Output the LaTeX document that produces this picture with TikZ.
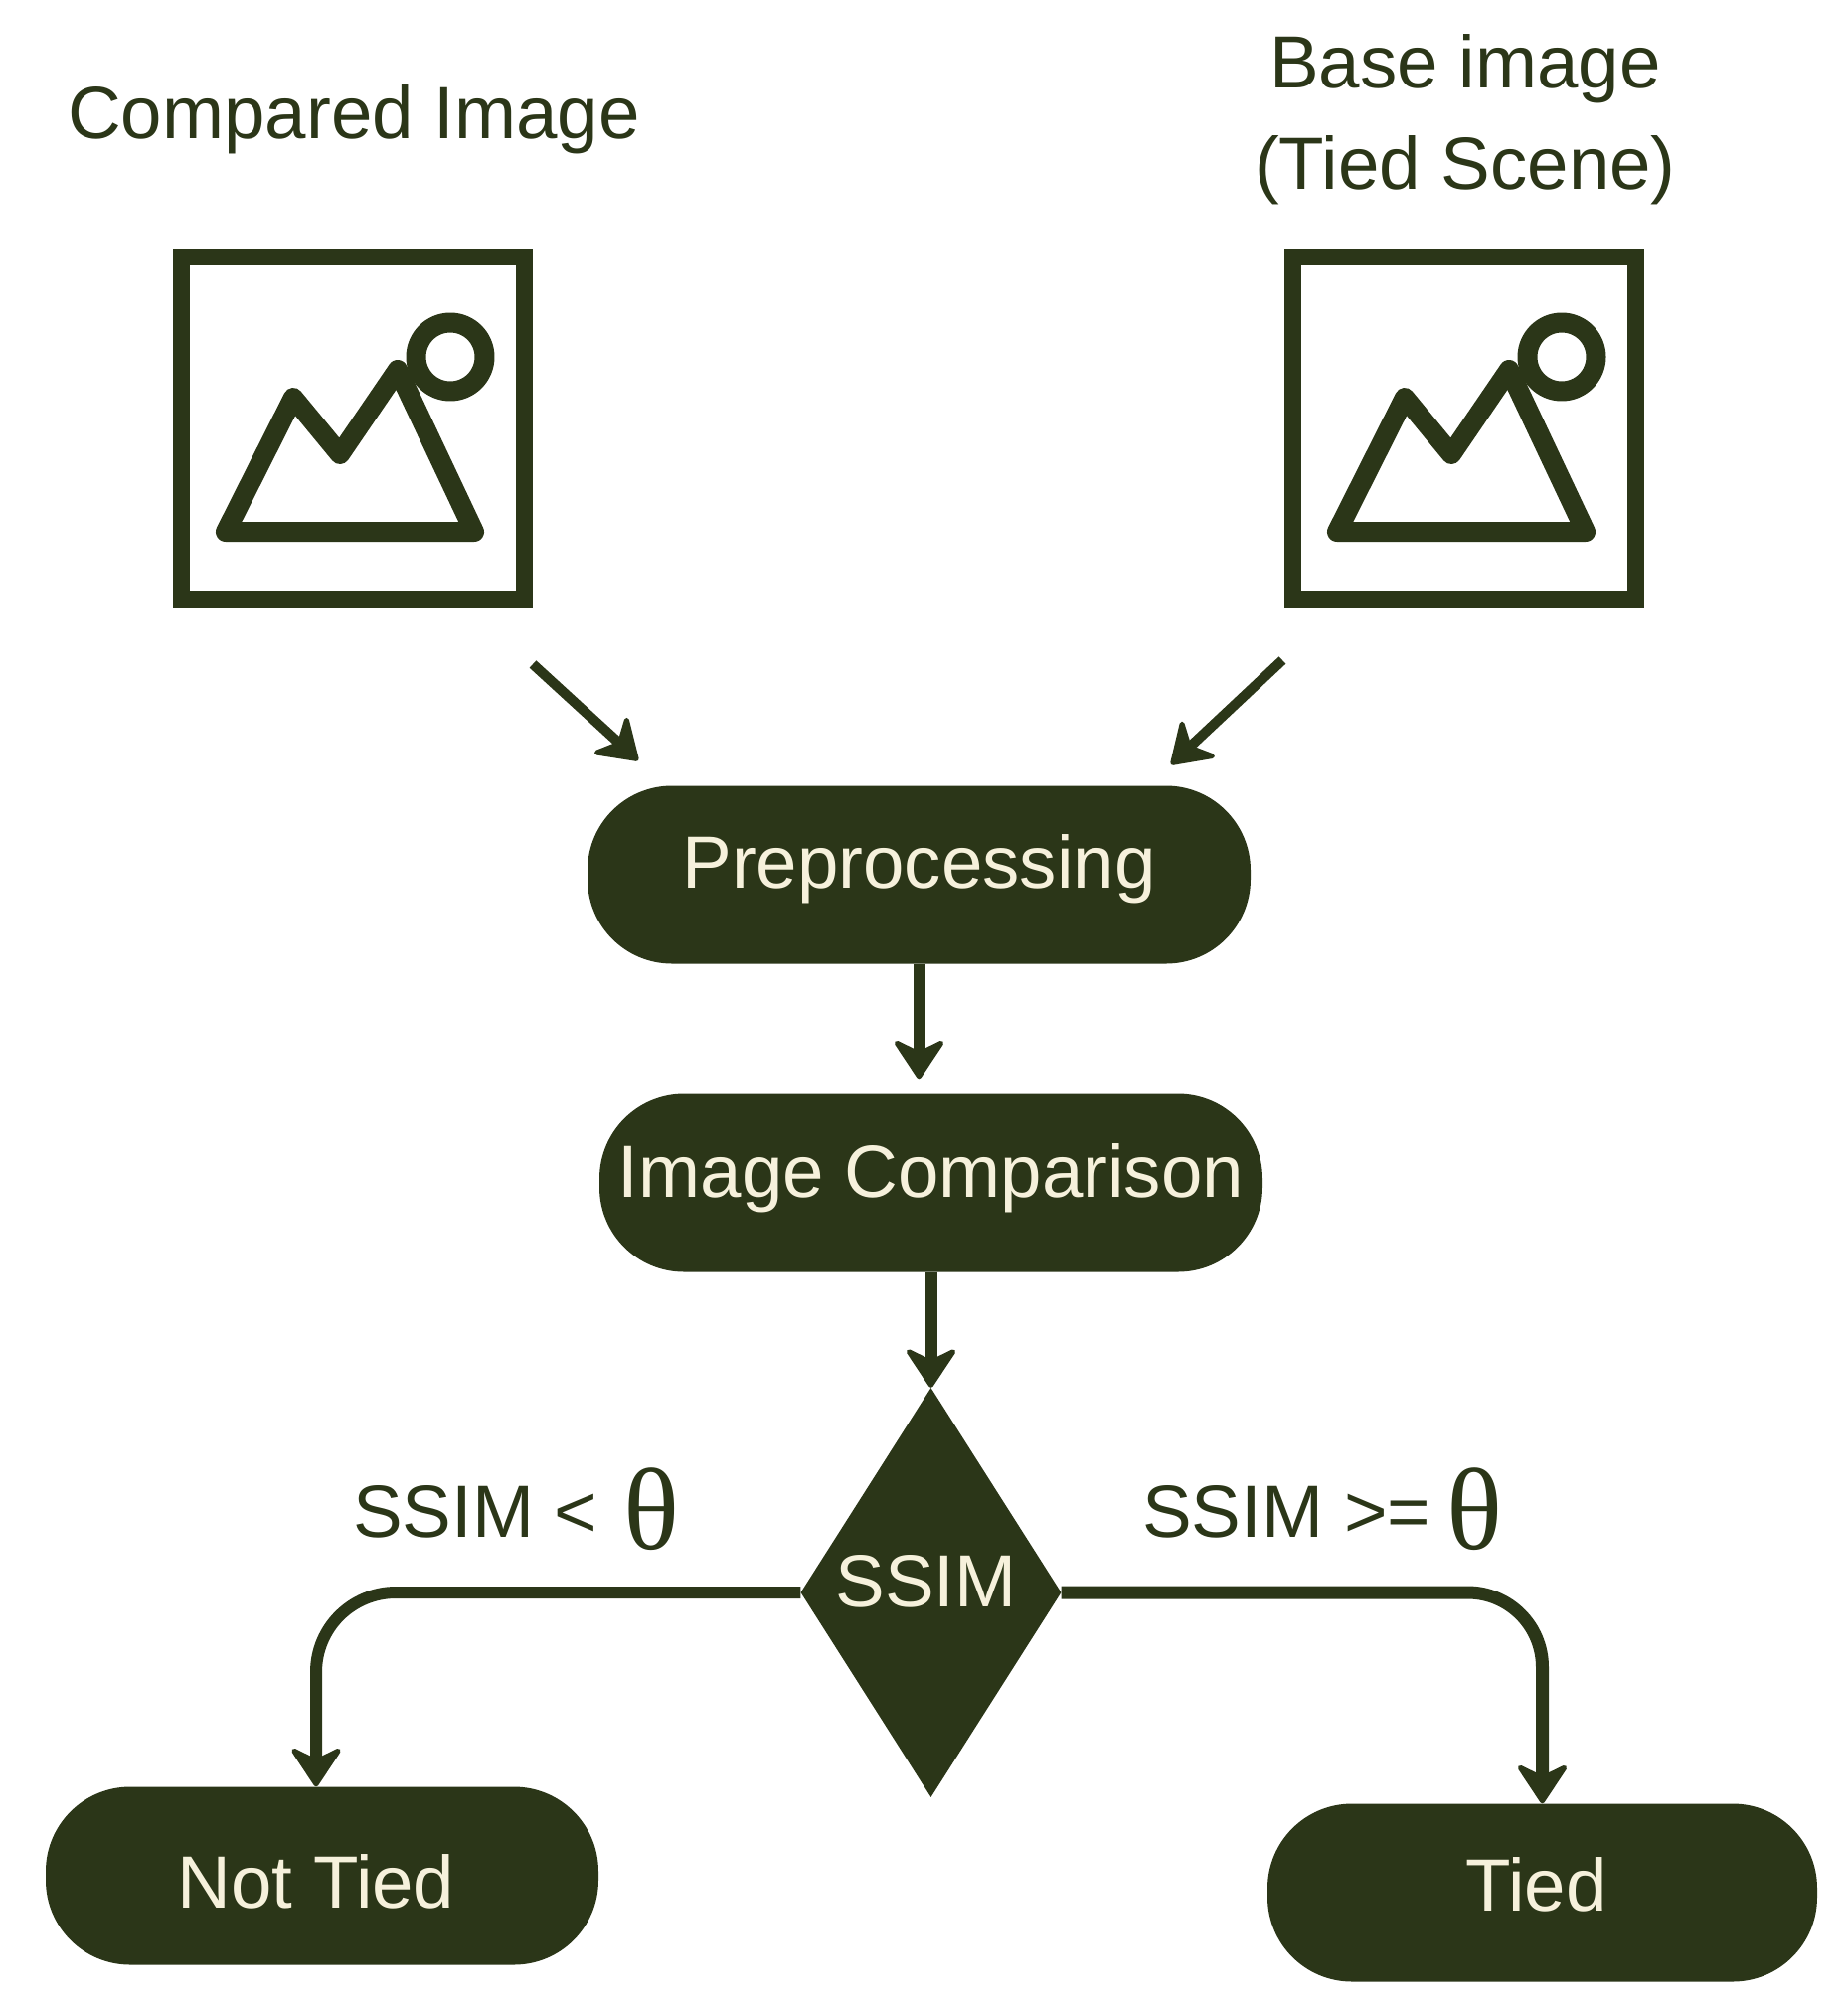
\documentclass[tikz,border=0pt]{standalone}
\usepackage{fontspec}
\usepackage{graphicx}
\setmainfont{Liberation Sans}
\newfontfamily\thetafont{Liberation Serif}
\usetikzlibrary{arrows.meta,shapes.geometric}
\definecolor{ink}{HTML}{2B3618}
\definecolor{cream}{HTML}{F6F1DC}
\newcommand{\bigtheta}{\raisebox{-12pt}{\thetafont\fontsize{117}{117}\selectfont\scalebox{1.0}[1]{θ}}}
\tikzset{
  lab/.style={text=ink,font=\fontsize{74.5}{80}\selectfont,inner sep=0pt,anchor=base west},
  pill/.style={fill=ink,text=cream,font=\fontsize{74.5}{80}\selectfont,inner sep=0pt,rounded corners=85pt,
    minimum height=179pt,text height=80pt},
  conn/.style={draw=ink,line width=12pt,-{Stealth[length=44pt,width=58pt,inset=14pt,round,line width=5pt]}},
  frame/.style={draw=ink,line width=17pt,fill=none,minimum width=345pt,minimum height=345pt,inner sep=0pt},
  iconline/.style={draw=ink,line width=20pt,line join=round},
  pics/imgicon/.style={code={
    \draw[iconline] (227,535) -- (295,400) -- (342,457) -- (400,372) -- (477,535) -- cycle;
    \draw[iconline] (453,359) circle[radius=34.5];
  }}
}
\begin{document}
\begin{tikzpicture}[x=1pt,y=-1pt]
\useasboundingbox (0,0) rectangle (1859,2022);
% labels on top
\node[lab] (tcmp) at (68,139) {Compared Image};
\node[lab,anchor=base] (tbase) at (1474,88) {Base image};
\node[lab,anchor=base] (ttied) at (1474,190) {(Tied Scene)};
% image icons
\node[frame] (fL) at (355,431) {};
\node[frame] (fR) at (1473,431) {};
\pic at (0,0) {imgicon};
\pic at (1118,0) {imgicon};
% process nodes
\node[pill,minimum width=667pt,text depth=54pt] (pre) at (924.5,880) {Preprocessing};
\node[pill,minimum width=667pt,text depth=52pt] (cmp) at (936.5,1190) {Image Comparison};
\node[diamond,fill=ink,text=cream,font=\fontsize{74.5}{80}\selectfont,inner sep=0pt,aspect=0.63,
  minimum width=262pt,minimum height=412pt,text height=60pt,text depth=32pt] (ssim) at (936.5,1602) {\hspace*{-10pt}SSIM};
\node[pill,minimum width=556pt,text depth=16pt] (nt) at (324,1887) {\hspace*{-12pt}Not Tied};
\node[pill,minimum width=553pt,text depth=44pt] (tied) at (1551.5,1904) {\hspace*{-12pt}Tied};
% edge labels
\node[lab] (llow) at (355,1546) {SSIM <\hspace{26pt}\bigtheta};
\node[lab] (lhigh) at (1149,1546) {SSIM >=\hspace{16pt}\bigtheta};
% connectors
\coordinate (a1s) at (536,668);
\coordinate (a1e) at (642,765);
\coordinate (a2s) at (1290,664);
\coordinate (a2e) at (1178,769);
\draw[conn,line width=10pt] (a1s) -- (a1e);
\draw[conn,line width=10pt] (a2s) -- (a2e);
\draw[conn,shorten >=15pt] (pre.south) -- (pre.south |- cmp.north);
\draw[conn] (cmp.south) -- (ssim.north);
\draw[conn,rounded corners=80pt] (ssim.west) -| ([xshift=-6pt]nt.north);
\draw[conn,rounded corners=75pt,line width=13pt] (ssim.east) -| (tied.north);
\end{tikzpicture}
\end{document}
